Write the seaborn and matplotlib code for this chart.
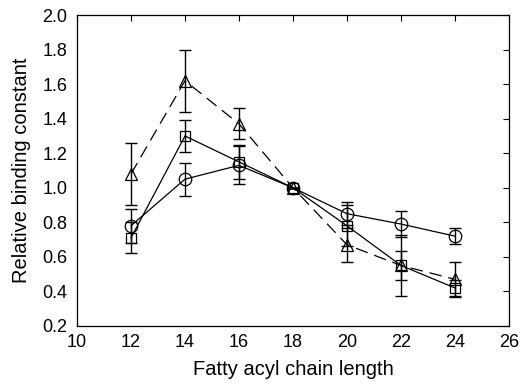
import matplotlib
matplotlib.use("Agg")
import matplotlib.pyplot as plt
import pandas as pd
import seaborn as sns

chain = [12, 14, 16, 18, 20, 22, 24]

circle_y = [0.78, 1.05, 1.13, 1.00, 0.85, 0.79, 0.72]
circle_err = [0.10, 0.095, 0.11, 0.0, 0.065, 0.077, 0.045]

square_y = [0.71, 1.30, 1.15, 1.00, 0.78, 0.55, 0.42]
square_err = [0.09, 0.09, 0.10, 0.0, 0.12, 0.175, 0.045]

triangle_y = [1.08, 1.62, 1.37, 1.00, 0.67, 0.55, 0.47]
triangle_err = [0.18, 0.18, 0.09, 0.0, 0.10, 0.085, 0.10]

sns.set_style("white")
plt.rcParams['font.family'] = ['Liberation Sans', 'DejaVu Sans']
plt.rcParams['text.color'] = 'black'
plt.rcParams['axes.labelcolor'] = 'black'

fig, ax = plt.subplots(figsize=(5.22, 3.88), dpi=100)
fig.subplots_adjust(left=0.1475, right=0.975, top=0.961, bottom=0.160)

series = [
    (circle_y, circle_err, 'o', '-', 9),
    (square_y, square_err, 's', '-', 7),
    (triangle_y, triangle_err, '^', (0, (10, 5.5)), 8.5),
]

for yv, ev, mk, ls, ms in series:
    df = pd.DataFrame({'x': chain, 'y': yv})
    ax.errorbar(df['x'], df['y'], yerr=ev, fmt='none', ecolor='black',
                elinewidth=1.0, capsize=4, capthick=1.0)
    sns.lineplot(data=df, x='x', y='y', ax=ax, color='black', linewidth=0.9,
                 linestyle=ls, marker=mk, markersize=ms, markerfacecolor='none',
                 markeredgecolor='black', markeredgewidth=0.9)

ax.set_xlim(10, 26)
ax.set_ylim(0.2, 2.0)
ax.set_xticks(range(10, 27, 2))
ax.set_yticks([0.2, 0.4, 0.6, 0.8, 1.0, 1.2, 1.4, 1.6, 1.8, 2.0])
ax.set_yticklabels(['0.2', '0.4', '0.6', '0.8', '1.0', '1.2', '1.4', '1.6', '1.8', '2.0'])
ax.tick_params(direction='in', length=4, width=0.8, top=True, right=True,
               labelsize=13, colors='black', labelcolor='black')
ax.tick_params(axis='x', pad=6)
ax.tick_params(axis='y', pad=7)
for s in ax.spines.values():
    s.set_color('black')
    s.set_linewidth(0.9)
ax.set_xlabel('Fatty acyl chain length', fontsize=14.5, labelpad=6, color='black')
ax.set_ylabel('Relative binding constant', fontsize=14.5, labelpad=8, color='black')

fig.savefig('out.png', dpi=100)
